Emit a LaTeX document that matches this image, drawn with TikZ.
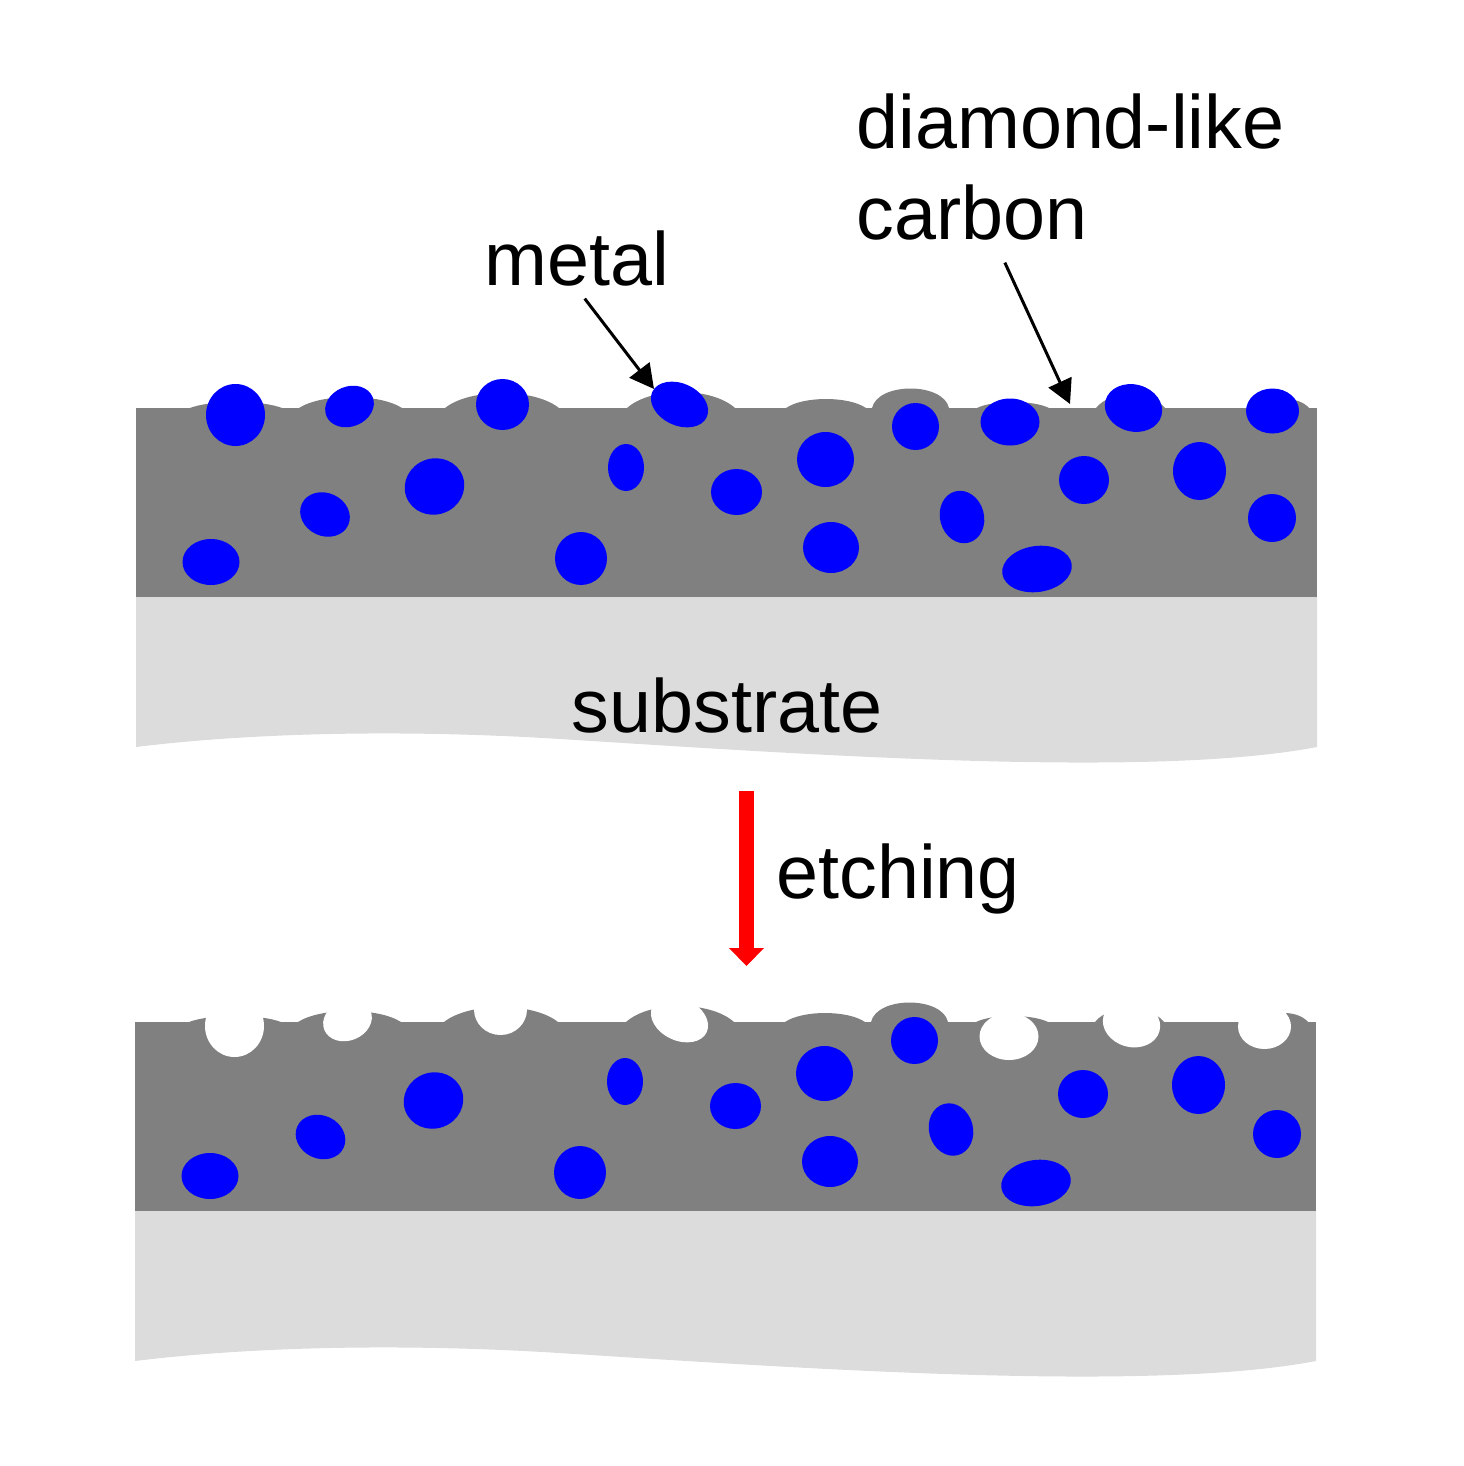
\documentclass[tikz,border=0pt]{standalone}
\usepackage{fontspec}
\setmainfont{Liberation Sans}
\usetikzlibrary{arrows.meta,shapes.geometric}
\definecolor{dlcgray}{HTML}{808080}
\definecolor{subgray}{HTML}{DCDCDC}
\tikzset{
    blob/.style={ellipse,inner sep=0pt,fill=blue},
    hole/.style={ellipse,inner sep=0pt,fill=white},
    lbl/.style={anchor=base west,inner sep=0pt,font=\fontsize{37.75}{37.75}\selectfont},
    pointer/.style={-{Triangle[width=12.5pt,length=12pt]},line width=1.5pt},
}
% carbon layer with its bumps, and the substrate under it
\newcommand{\layerstack}{%
    \fill[subgray] (136,597) -- (1317,597) -- (1317,747)
        .. controls (1150,779) and (800,754) .. (560,739)
        .. controls (400,729) and (250,733) .. (136,747) -- cycle;
    \fill[dlcgray] (136,408) rectangle (1317,597);
    \foreach \a/\b/\h in {190/282/402,299/402/397,445/559/393,627/735/392,786/866/399,1096/1165/394,977/1049/402,1262/1309/399}{
        \pgfmathsetmacro{\ctrl}{408-(408-\h)*4/3}
        \fill[dlcgray] (\a,408) .. controls ({\a+(\b-\a)*.22},\ctrl) and ({\b-(\b-\a)*.22},\ctrl) .. (\b,408) -- cycle;
    }
    \fill[dlcgray] (872,408) .. controls (878,382) and (943,382) .. (949,408) -- cycle;
}
\begin{document}
\begin{tikzpicture}[x=.5pt,y=-.5pt]
    \useasboundingbox (0,0) rectangle (1463,1466);
    \layerstack
    \begin{scope}[shift={(-1,614)}]
        \layerstack
    \end{scope}
    % upper stack
    \foreach \i/\x/\y/\w/\h/\r in {
        1/235.5/415/59/62/0, 2/349.5/406.5/50/40/22, 3/502.5/404.5/53/51/0,
        4/679.5/404.5/60/42/-25, 5/915.5/426.5/47/47/0, 6/1010/422/59/47/0,
        7/1133.5/408/58/47/-15, 8/1272.5/411/53/45/0, 9/825.5/459.5/57/55/0,
        10/626/467.5/36/47/0, 11/736.5/492/51/46/0, 12/434.5/486.5/60/56/20,
        13/325/514.5/51/43/-25, 14/211/562/57/46/0, 15/581/558.5/52/53/0,
        16/831/547.5/56/51/0, 17/962/517/44/53/15, 18/1084/480/50/48/0,
        19/1199.5/471/53/58/0, 20/1272/518/48/48/0, 21/1037/569/70/46/8}{
        \node[blob,minimum width=\w*.5pt,minimum height=\h*.5pt,rotate=\r] (up\i) at (\x,\y) {};
    }
    % lower stack, etched holes first
    \foreach \i/\x/\y/\w/\h/\r in {
        1/234.5/1026/59/62/0, 2/347.5/1020.5/50/40/22, 3/500.5/1009.5/53/51/0,
        4/679.5/1019.5/60/42/-25, 6/1009/1036.5/59/47/0,
        7/1131.5/1023.5/58/47/-15, 8/1264.5/1026.5/53/45/0}{
        \node[hole,minimum width=\w*.5pt,minimum height=\h*.5pt,rotate=\r] (hole\i) at (\x,\y) {};
    }
    \foreach \i/\x/\y/\w/\h/\r in {
        5/914.5/1040.5/47/47/0, 9/824.5/1073.5/57/55/0,
        10/625/1081.5/36/47/0, 11/735.5/1106/51/46/0, 12/433.5/1100.5/60/56/20,
        13/320.5/1137/51/43/-25, 14/210/1176/57/46/0, 15/580/1172.5/52/53/0,
        16/830/1161.5/56/51/0, 17/951/1129.5/44/53/15, 18/1083/1094/50/48/0,
        19/1198.5/1085/53/58/0, 20/1277/1134/48/48/0, 21/1036/1183/70/46/8}{
        \node[blob,minimum width=\w*.5pt,minimum height=\h*.5pt,rotate=\r] (low\i) at (\x,\y) {};
    }
    \node[lbl] (metal) at (484,285.5) {metal};
    \node[lbl] (dlc) at (856,148.5) {diamond-like};
    \node[lbl] (carbon) at (856,239.5) {carbon};
    \node[lbl] (substrate) at (571.5,732.5) {substrate};
    \node[lbl] (etching) at (776,898.5) {etching};
    \coordinate (metaltip) at (654,389);
    \coordinate (dlctip) at (1070,404);
    \coordinate (etchtop) at (746.5,791);
    \coordinate (etchtip) at (746.5,966);
    \draw[pointer] ([shift={(4pt,-6pt)}]metal.south) -- (metaltip);
    \draw[pointer] ([shift={(16.5pt,-11pt)}]carbon.south) -- (dlctip);
    \draw[red,line width=7.5pt,-{Triangle[width=17pt,length=9pt]}] (etchtop) -- (etchtip);
\end{tikzpicture}
\end{document}
